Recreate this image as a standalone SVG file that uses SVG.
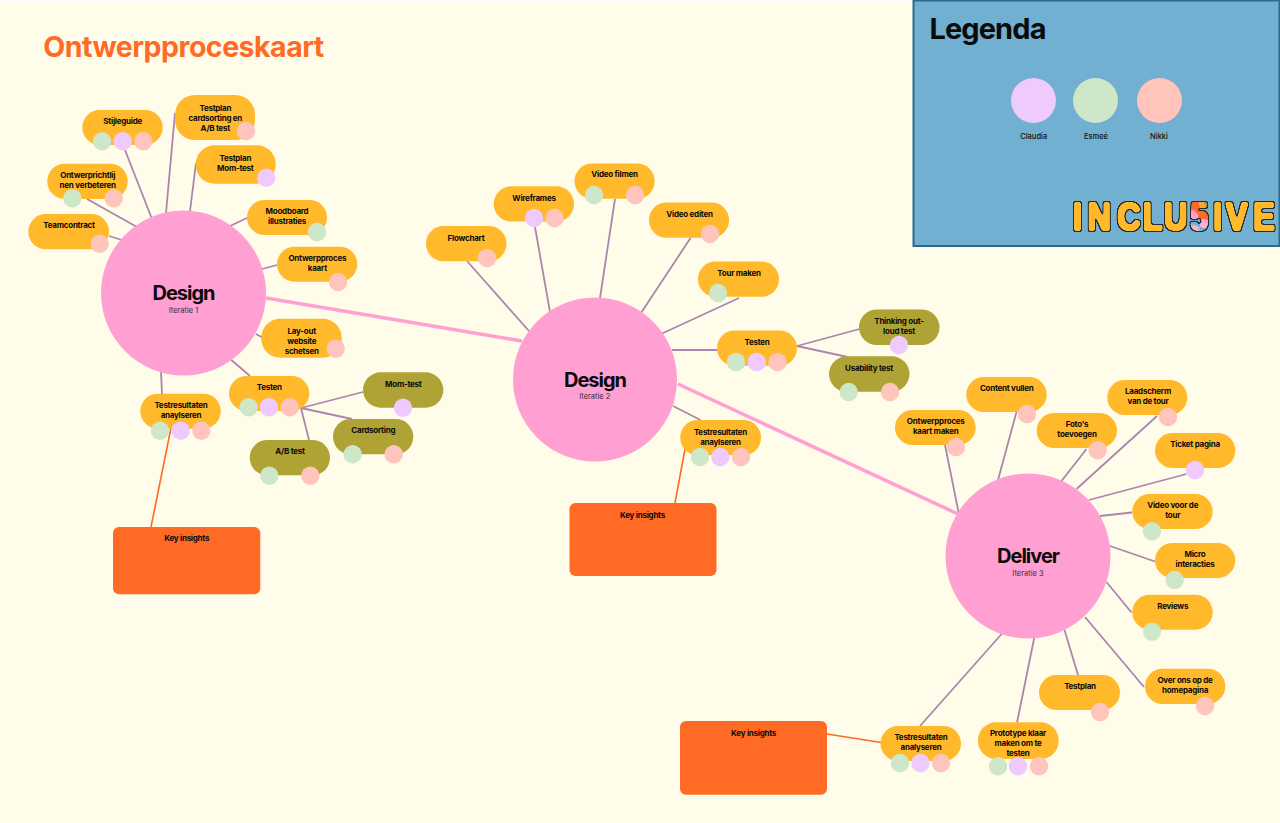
<svg xmlns="http://www.w3.org/2000/svg" width="1280" height="823" viewBox="0 0 1280 823">
<style>
text{font-family:"Inter","Noto Sans","Liberation Sans",sans-serif;fill:#0b0b0b;text-anchor:middle}
.t{font-size:8px;font-weight:700;letter-spacing:-.25px}
.h{font-size:20px;font-weight:700;letter-spacing:-1px}
.s{font-size:7.5px;fill:#3a2a3a}
.lg{font-size:7.5px;font-weight:500;fill:#111}
.p{fill:#ffb92b}.o{fill:#aea334}.k{fill:#ff6b25}
.hub{fill:#ff9fd2}
.c{fill:#efcaff}.e{fill:#cde7c8}.n{fill:#ffc5bd}
.l{stroke:#ab86ab;stroke-width:1.8;fill:none}
.m{stroke:#ff9fd2;stroke-width:3.5;fill:none}
.i{stroke:#ff6b25;stroke-width:1.6;fill:none}
</style>
<defs>
<radialGradient id="five" gradientUnits="userSpaceOnUse" cx="159" cy="-30" r="40">
<stop offset=".22" stop-color="#aea334"/><stop offset=".22" stop-color="#ff6b25"/><stop offset=".55" stop-color="#ff6b25"/><stop offset=".55" stop-color="#ff9fd2"/><stop offset=".65" stop-color="#ff9fd2"/><stop offset=".65" stop-color="#71b0d1"/><stop offset=".8" stop-color="#71b0d1"/><stop offset=".8" stop-color="#ff6b25"/>
</radialGradient>
<filter id="groovy" x="-5%" y="-30%" width="110%" height="160%" color-interpolation-filters="sRGB">
<feMorphology in="SourceAlpha" operator="dilate" radius="1" result="a"/>
<feGaussianBlur in="a" stdDeviation="1" result="b"/>
<feComponentTransfer in="b" result="fat"><feFuncA type="linear" slope="7" intercept="-3"/></feComponentTransfer>
<feMorphology in="SourceGraphic" operator="dilate" radius="2" result="col"/>
<feComposite in="col" in2="fat" operator="in" result="fill"/>
<feMorphology in="fat" operator="dilate" radius=".7" result="edge"/>
<feFlood flood-color="#2a2a2a"/>
<feComposite in2="edge" operator="in" result="outline"/>
<feMerge><feMergeNode in="outline"/><feMergeNode in="fill"/></feMerge>
</filter>
</defs>
<rect width="1280" height="823" fill="#ffffff"/>
<rect y="1" width="1280" height="822" fill="#fffcea"/>
<text x="183.500" y="57" style="font-size:28.500px;font-weight:700;fill:#ff6b25;letter-spacing:-.5px">Ontwerpproceskaart</text>
<g id="legend">
<rect x="913.500" y="0.500" width="366" height="245.500" fill="#71b0d1" stroke="#2a6a8d" stroke-width="2"/>
<text x="987.500" y="39" style="font-size:29px;font-weight:700;letter-spacing:-.9px">Legenda</text>
<circle class="c" cx="1033.500" cy="100.500" r="22.500"/><circle class="e" cx="1095.500" cy="100.500" r="22.500"/><circle class="n" cx="1159.500" cy="100.500" r="22.500"/>
<text class="lg" x="1033.700" y="138.800">Claudia</text><text class="lg" x="1096" y="138.800">Esmeé</text><text class="lg" x="1159" y="138.800">Nikki</text>
<text filter="url(#groovy)" transform="translate(1073 230) scale(.85 1)" y="0" x="0 17 52 82 107 138 165 180 212" style="font-family:'Liberation Sans',sans-serif;font-size:38px;font-weight:700;fill:#ffb92b;text-anchor:start">INCLU<tspan style="fill:url(#five)">5</tspan>IVE</text>
</g>
<g id="connectors">
<path class="m" d="M266 298L522 341M678 384L958 514"/>
<path class="l" d="M109 236L122 240M87 199L137 227M125 150L152 219M175 113L166 213M196 163L190 211M247 218L230 226M277 265L262 269M265 339L256 334M229 358L250 376M161 371L162 394M301 408L363 392M301 408L352 419M301 408L309 440"/>
<path class="l" d="M467 261L529 331M535 227L550 312M615 199L600 298M690.500 238L641 313M739 298L661 334M672 350L717.500 350M797 346L859.500 329M797 346L847.500 357M673 406L700.500 420"/>
<path class="l" d="M945 445L958.500 512M1016.500 412L998 480M1086.500 449L1061.500 481M1157 416L1076.500 489M1186.500 474L1089 500M1132 512.500L1100 516M1155 561.500L1110 546M1131.500 612.500L1106.500 582M1144 687L1085 617M1078 675L1064.500 630M1017 722.500L1034.500 636.500M920 726L1002.500 633"/>
<path class="i" d="M171 428L151 527M685 449L675 503M827 734L884.500 743"/>
</g>
<g id="hub1"><circle class="hub" cx="183.500" cy="293" r="82.500"/><text class="h" x="183.500" y="300">Design</text><text class="s" x="183.500" y="313">Iteratie 1</text></g>
<g id="hub2"><circle class="hub" cx="595" cy="379.500" r="82"/><text class="h" x="595" y="387">Design</text><text class="s" x="594.800" y="399">Iteratie 2</text></g>
<g id="hub3"><circle class="hub" cx="1028" cy="556" r="82.500"/><text class="h" x="1028" y="563">Deliver</text><text class="s" x="1028" y="576">Iteratie 3</text></g>

<g id="n-teamcontract"><rect class="p" x="28.300" y="214" width="80.700" height="35.300" rx="17.600"/><text class="t" x="69" y="228.300">Teamcontract</text><circle class="n" cx="99.700" cy="243.700" r="9.200"/></g>
<g id="n-principles"><rect class="p" x="47.300" y="163.700" width="80.400" height="35.300" rx="17.600"/><text class="t" x="87.700" y="178">Ontwerprichtlij</text><text class="t" x="87.700" y="188">nen verbeteren</text><circle class="e" cx="72.300" cy="198.300" r="9.200"/><circle class="n" cx="113.700" cy="198.300" r="9.200"/></g>
<g id="n-stijl"><rect class="p" x="82.300" y="110" width="80.400" height="35" rx="17.500"/><text class="t" x="122.700" y="124">Stijleguide</text><circle class="e" cx="102" cy="141.300" r="9.200"/><circle class="c" cx="122.700" cy="141.300" r="9.200"/><circle class="n" cx="143.300" cy="141.300" r="9.200"/></g>
<g id="n-plan-cs"><rect class="p" x="175" y="95" width="80" height="45" rx="20"/><text class="t" x="215.300" y="110.700">Testplan</text><text class="t" x="215.300" y="120.700">cardsorting en</text><text class="t" x="215.300" y="130.700">A/B test</text><circle class="n" cx="246" cy="131" r="9.200"/></g>
<g id="n-plan-mom"><rect class="p" x="195.700" y="145.300" width="80" height="38.400" rx="19"/><text class="t" x="235.300" y="161.300">Testplan</text><text class="t" x="235.300" y="171.300">Mom-test</text><circle class="c" cx="266.300" cy="177.700" r="9.200"/></g>
<g id="n-mood"><rect class="p" x="247" y="200" width="80" height="35" rx="17.500"/><text class="t" x="287" y="214">Moodboard</text><text class="t" x="287" y="224">illustraties</text><circle class="e" cx="317" cy="232" r="9.200"/></g>
<g id="n-opk"><rect class="p" x="277" y="246.700" width="80.300" height="35" rx="17.500"/><text class="t" x="317.300" y="260.700">Ontwerpproces</text><text class="t" x="317.300" y="270.700">kaart</text><circle class="n" cx="338" cy="282" r="9.200"/></g>
<g id="n-layout"><rect class="p" x="261.300" y="318.700" width="80.400" height="39" rx="19"/><text class="t" x="301.700" y="333.700">Lay-out</text><text class="t" x="301.700" y="343.700">website</text><text class="t" x="301.700" y="353.700">schetsen</text><circle class="n" cx="335.700" cy="348.700" r="9.200"/></g>
<g id="n-testen1"><rect class="p" x="229" y="376" width="80.300" height="35" rx="17.500"/><text class="t" x="269.300" y="390">Testen</text><circle class="e" cx="248.700" cy="407.300" r="9.200"/><circle class="c" cx="269" cy="407.300" r="9.200"/><circle class="n" cx="289.700" cy="407.300" r="9.200"/></g>
<g id="n-res1"><rect class="p" x="140.300" y="393.700" width="80.400" height="35" rx="17.500"/><text class="t" x="181" y="408">Testresultaten</text><text class="t" x="181" y="418">anaylseren</text><circle class="e" cx="160" cy="430.700" r="9.200"/><circle class="c" cx="180.700" cy="430.700" r="9.200"/><circle class="n" cx="201.300" cy="430.700" r="9.200"/></g>
<g id="n-mom"><rect class="o" x="363" y="372.300" width="80.300" height="35.400" rx="17.700"/><text class="t" x="403.300" y="386.700">Mom-test</text><circle class="c" cx="403" cy="407.700" r="9.200"/></g>
<g id="n-card"><rect class="o" x="333" y="419" width="80.300" height="35.300" rx="17.600"/><text class="t" x="373.300" y="433.300">Cardsorting</text><circle class="e" cx="352.700" cy="454.300" r="9.200"/><circle class="n" cx="393.700" cy="454.300" r="9.200"/></g>
<g id="n-ab"><rect class="o" x="249.700" y="440" width="80.300" height="35.300" rx="17.600"/><text class="t" x="290" y="454.300">A/B test</text><circle class="e" cx="269.300" cy="475.700" r="9.200"/><circle class="n" cx="310.300" cy="475.700" r="9.200"/></g>
<g id="n-key1"><rect class="k" x="113" y="527" width="147.300" height="67.300" rx="6"/><text class="t" x="186.700" y="541.300">Key insights</text></g>

<g id="n-flow"><rect class="p" x="426" y="226" width="80.500" height="35.300" rx="17.600"/><text class="t" x="466" y="241">Flowchart</text><circle class="n" cx="487" cy="258" r="9.200"/></g>
<g id="n-wire"><rect class="p" x="493.700" y="186.300" width="80.300" height="35.300" rx="17.600"/><text class="t" x="534" y="200.500">Wireframes</text><circle class="c" cx="534" cy="218" r="9.200"/><circle class="n" cx="554.500" cy="218" r="9.200"/></g>
<g id="n-film"><rect class="p" x="574.500" y="163.500" width="80.100" height="35.300" rx="17.600"/><text class="t" x="614.500" y="177.300">Video filmen</text><circle class="e" cx="594" cy="195" r="9.200"/><circle class="n" cx="635" cy="195" r="9.200"/></g>
<g id="n-edit"><rect class="p" x="649" y="202.500" width="80" height="35.300" rx="17.600"/><text class="t" x="689.500" y="216.500">Video editen</text><circle class="n" cx="710" cy="234" r="9.200"/></g>
<g id="n-tour"><rect class="p" x="698" y="261.500" width="81" height="35.300" rx="17.600"/><text class="t" x="739" y="275.500">Tour maken</text><circle class="e" cx="718" cy="293" r="9.200"/></g>
<g id="n-testen2"><rect class="p" x="717" y="330.500" width="80" height="35.300" rx="17.600"/><text class="t" x="757" y="344.500">Testen</text><circle class="e" cx="736" cy="362" r="9.200"/><circle class="c" cx="756.700" cy="362" r="9.200"/><circle class="n" cx="777.500" cy="362" r="9.200"/></g>
<g id="n-think"><rect class="o" x="859" y="309.500" width="80.500" height="35.500" rx="17.700"/><text class="t" x="899" y="323.700">Thinking out-</text><text class="t" x="899" y="333.700">loud test</text><circle class="c" cx="899" cy="345" r="9.200"/></g>
<g id="n-usab"><rect class="o" x="829" y="356.300" width="80.500" height="35.500" rx="17.700"/><text class="t" x="869" y="370.500">Usability test</text><circle class="e" cx="848.700" cy="392" r="9.200"/><circle class="n" cx="890" cy="392" r="9.200"/></g>
<g id="n-res2"><rect class="p" x="680.200" y="420" width="80.800" height="35.300" rx="17.600"/><text class="t" x="720.500" y="434.500">Testresultaten</text><text class="t" x="720.500" y="444.500">anaylseren</text><circle class="e" cx="700" cy="457" r="9.200"/><circle class="c" cx="720.300" cy="457" r="9.200"/><circle class="n" cx="741" cy="457" r="9.200"/></g>
<g id="n-key2"><rect class="k" x="569.500" y="503" width="147" height="73" rx="6"/><text class="t" x="642.500" y="517.500">Key insights</text></g>

<g id="n-opkm"><rect class="p" x="895" y="410" width="80.700" height="35" rx="17.500"/><text class="t" x="935.700" y="424">Ontwerpproces</text><text class="t" x="935.700" y="434">kaart maken</text><circle class="n" cx="956" cy="447" r="9.200"/></g>
<g id="n-content"><rect class="p" x="966.300" y="377" width="80.400" height="35" rx="17.500"/><text class="t" x="1006.700" y="391">Content vullen</text><circle class="n" cx="1027" cy="414" r="9.200"/></g>
<g id="n-foto"><rect class="p" x="1036.700" y="413" width="80.300" height="35" rx="17.500"/><text class="t" x="1077" y="427">Foto's</text><text class="t" x="1077" y="437">toevoegen</text><circle class="n" cx="1097.700" cy="450.300" r="9.200"/></g>
<g id="n-laad"><rect class="p" x="1107.300" y="380" width="80" height="35" rx="17.500"/><text class="t" x="1148" y="394">Laadscherm</text><text class="t" x="1148" y="404">van de tour</text><circle class="n" cx="1168" cy="417" r="9.200"/></g>
<g id="n-ticket"><rect class="p" x="1155" y="433" width="80.300" height="35" rx="17.500"/><text class="t" x="1195" y="447">Ticket pagina</text><circle class="c" cx="1195" cy="470" r="9.200"/></g>
<g id="n-video"><rect class="p" x="1132.300" y="494" width="80.400" height="35" rx="17.500"/><text class="t" x="1172.700" y="508">Video voor de</text><text class="t" x="1172.700" y="518">tour</text><circle class="e" cx="1152" cy="531.300" r="9.200"/></g>
<g id="n-micro"><rect class="p" x="1155" y="543" width="80.300" height="35" rx="17.500"/><text class="t" x="1195" y="557">Micro</text><text class="t" x="1195" y="567">interacties</text><circle class="e" cx="1174.700" cy="580" r="9.200"/></g>
<g id="n-rev"><rect class="p" x="1132.300" y="594.700" width="80.400" height="35" rx="17.500"/><text class="t" x="1172.700" y="608.700">Reviews</text><circle class="e" cx="1152" cy="631.700" r="9.200"/></g>
<g id="n-over"><rect class="p" x="1145" y="668.700" width="80.300" height="35.300" rx="17.600"/><text class="t" x="1185" y="683">Over ons op de</text><text class="t" x="1185" y="693">homepagina</text><circle class="n" cx="1205" cy="706" r="9.200"/></g>
<g id="n-testplan"><rect class="p" x="1039" y="675" width="81" height="35" rx="17.500"/><text class="t" x="1080" y="689">Testplan</text><circle class="n" cx="1100" cy="712" r="9.200"/></g>
<g id="n-proto"><rect class="p" x="978" y="722.300" width="80.700" height="36.700" rx="18"/><text class="t" x="1018" y="736">Prototype klaar</text><text class="t" x="1018" y="746">maken om te</text><text class="t" x="1018" y="756">testen</text><circle class="e" cx="998" cy="766.300" r="9.200"/><circle class="c" cx="1018" cy="766.300" r="9.200"/><circle class="n" cx="1039" cy="766.300" r="9.200"/></g>
<g id="n-res3"><rect class="p" x="880.500" y="726" width="80.500" height="35" rx="17.500"/><text class="t" x="921" y="740">Testresultaten</text><text class="t" x="921" y="750">analyseren</text><circle class="e" cx="900" cy="763" r="9.200"/><circle class="c" cx="920.500" cy="763" r="9.200"/><circle class="n" cx="941" cy="763" r="9.200"/></g>
<g id="n-key3"><rect class="k" x="680" y="721" width="147" height="73.700" rx="6"/><text class="t" x="753.600" y="736">Key insights</text></g>
</svg>
